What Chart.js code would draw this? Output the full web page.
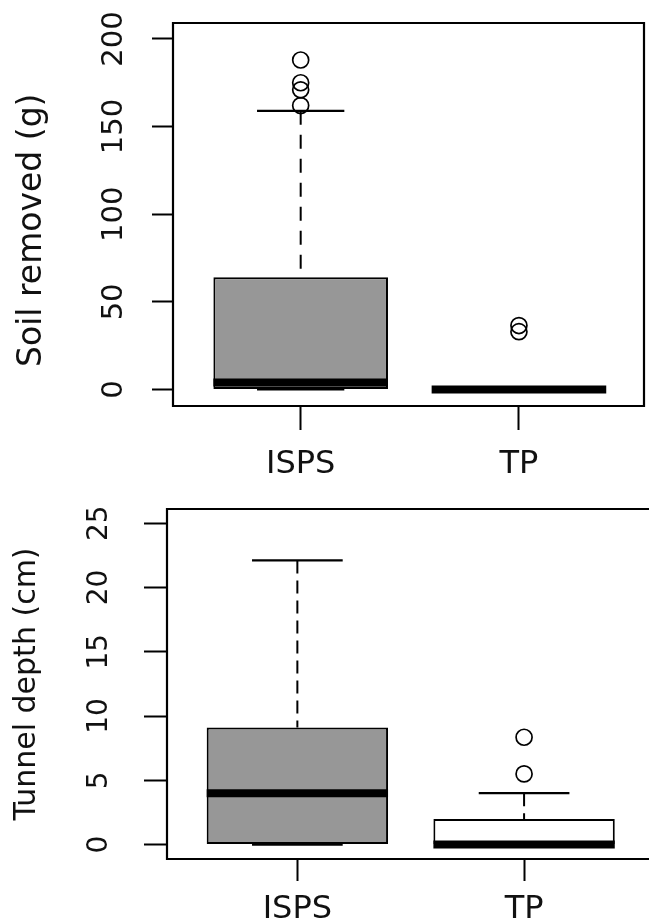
<!DOCTYPE html>
<html><head><meta charset="utf-8">
<script src="https://cdn.jsdelivr.net/npm/chart.js@4.4.1/dist/chart.umd.min.js"></script>
<style>
html,body{margin:0;padding:0;background:#fff;overflow:hidden;width:649px;height:920px}
.wrap{position:absolute;left:0}
canvas{display:block}
</style></head><body>
<div class="wrap" style="top:0"><canvas id="c1" width="649" height="490"></canvas></div>
<div class="wrap" style="top:490px"><canvas id="c2" width="649" height="430"></canvas></div>
<script>
// ---------- data ----------
const categories = ['ISPS', 'TP'];

const soilQ1 = [0, 0];
const soilMedian = [4, 0];
const soilQ3 = [64, 0];
const soilLow = [0, 0];
const soilHigh = [159, 0];
const soilOutliersISPS = [162, 171, 175, 188];
const soilOutliersTP = [33, 36.5];
const soilTicks = [0, 50, 100, 150, 200];

const depthQ1 = [0, 0];
const depthMedian = [4, 0];
const depthQ3 = [9.1, 2];
const depthLow = [0, 0];
const depthHigh = [22.1, 4];
const depthOutliersISPS = [];
const depthOutliersTP = [5.5, 8.35];
const depthTicks = [0, 5, 10, 15, 20, 25];

// ---------- drawing ----------
Chart.defaults.font.family = "'DejaVu Sans', Verdana, sans-serif";
Chart.defaults.color = '#111';

const boxplotPlugin = {
  id: 'boxplot',
  beforeDatasetsDraw(chart, args, o) {
    const ctx = chart.ctx, xs = chart.scales.x, ys = chart.scales.y;
    ctx.save();
    ctx.strokeStyle = '#000';
    o.q1.forEach((_, i) => {
      const c = i + 1, cx = xs.getPixelForValue(c);
      ctx.lineWidth = 2;
      ctx.setLineDash(o.dash);
      if (o.high[i] > o.q3[i]) {
        ctx.beginPath(); ctx.moveTo(cx, ys.getPixelForValue(o.high[i])); ctx.lineTo(cx, ys.getPixelForValue(o.q3[i])); ctx.stroke();
      }
      if (o.low[i] < o.q1[i]) {
        ctx.beginPath(); ctx.moveTo(cx, ys.getPixelForValue(o.low[i])); ctx.lineTo(cx, ys.getPixelForValue(o.q1[i])); ctx.stroke();
      }
      ctx.setLineDash([]);
      ctx.lineWidth = 2.2;
      [o.high[i], o.low[i]].forEach(v => {
        const py = ys.getPixelForValue(v);
        ctx.beginPath(); ctx.moveTo(xs.getPixelForValue(c - 0.2), py); ctx.lineTo(xs.getPixelForValue(c + 0.2), py); ctx.stroke();
      });
    });
    ctx.restore();
  },
  afterDatasetsDraw(chart, args, o) {
    const ctx = chart.ctx, xs = chart.scales.x, ys = chart.scales.y, a = chart.chartArea;
    ctx.save();
    ctx.strokeStyle = '#000';
    ctx.lineCap = 'butt';
    o.median.forEach((m, i) => {
      const c = i + 1, py = ys.getPixelForValue(m);
      ctx.lineWidth = 8;
      ctx.beginPath(); ctx.moveTo(xs.getPixelForValue(c - 0.4), py); ctx.lineTo(xs.getPixelForValue(c + 0.4), py); ctx.stroke();
    });
    ctx.lineWidth = 2.2;
    ctx.beginPath();
    if (o.frameRight) {
      ctx.rect(a.left, a.top, a.right - a.left, a.bottom - a.top);
    } else {
      ctx.moveTo(a.right + 10, a.top); ctx.lineTo(a.left, a.top); ctx.lineTo(a.left, a.bottom); ctx.lineTo(a.right + 10, a.bottom);
    }
    ctx.stroke();
    ctx.restore();
  }
};

function noPad(s) { s.paddingTop = 0; s.paddingBottom = 0; s.paddingLeft = 0; s.paddingRight = 0; }

function makeChart(id, cfg) {
  const boxes = {
    type: 'bar',
    data: categories.map((c, i) => ({ x: i + 1, y: [cfg.q1[i], cfg.q3[i]] })),
    backgroundColor: cfg.fill,
    borderColor: '#000',
    borderWidth: 2,
    borderSkipped: false,
    categoryPercentage: 1,
    barPercentage: 0.8,
    order: 2
  };
  const outliers = {
    type: 'scatter',
    data: [...cfg.outA.map(v => ({ x: 1, y: v })), ...cfg.outB.map(v => ({ x: 2, y: v }))],
    pointStyle: 'circle',
    pointRadius: 8,
    pointBorderWidth: 1.7,
    pointBorderColor: '#000',
    pointBackgroundColor: 'rgba(0,0,0,0)',
    order: 1
  };
  return new Chart(document.getElementById(id), {
    type: 'scatter',
    data: { datasets: [boxes, outliers] },
    options: {
      responsive: false,
      animation: false,
      events: [],
      layout: { padding: cfg.padding, autoPadding: false },
      plugins: {
        legend: { display: false },
        tooltip: { enabled: false },
        boxplot: { q1: cfg.q1, median: cfg.median, q3: cfg.q3, low: cfg.low, high: cfg.high, dash: cfg.dash, frameRight: cfg.frameRight }
      },
      scales: {
        x: {
          type: 'linear', min: cfg.xmin, max: cfg.xmax, offset: false,
          afterBuildTicks: s => { s.ticks = categories.map((c, i) => ({ value: i + 1 })); },
          afterFit: s => { s.height = cfg.xAxisHeight; noPad(s); },
          ticks: { autoSkip: false, maxRotation: 0, font: { size: 32 }, padding: cfg.xPad, callback: v => categories[v - 1] },
          grid: { offset: false, drawOnChartArea: false, drawTicks: true, tickLength: cfg.xTick, tickColor: '#000', tickWidth: 2 },
          border: { display: false }
        },
        y: {
          type: 'linear', min: cfg.ymin, max: cfg.ymax,
          afterBuildTicks: s => { s.ticks = cfg.ticks.map(v => ({ value: v })); },
          afterFit: s => { s.width = cfg.yAxisWidth; noPad(s); },
          ticks: { autoSkip: false, minRotation: 90, maxRotation: 90, crossAlign: 'center', font: { size: cfg.tickSize }, padding: cfg.yPad },
          grid: { drawOnChartArea: false, drawTicks: true, tickLength: cfg.yTick, tickColor: '#000', tickWidth: 2 },
          border: { display: false },
          title: { display: true, text: cfg.title, font: { size: cfg.titleSize }, padding: { top: cfg.titlePad, bottom: 0 } }
        }
      }
    },
    plugins: [boxplotPlugin]
  });
}

makeChart('c1', {
  q1: soilQ1, median: soilMedian, q3: soilQ3, low: soilLow, high: soilHigh,
  outA: soilOutliersISPS, outB: soilOutliersTP, ticks: soilTicks,
  fill: ['#979797', '#979797'], dash: [14, 10], frameRight: true,
  ymin: -9.4, ymax: 209.1, xmin: 0.415, xmax: 2.573,
  padding: { top: 23, right: 5, left: 0, bottom: 0 },
  xAxisHeight: 84, yAxisWidth: 173, xTick: 24, yTick: 21, xPad: 15, yPad: 10, titlePad: 13,
  tickSize: 29, titleSize: 33,
  title: 'Soil removed (g)\u00a0\u00a0\u00a0'
});

makeChart('c2', {
  q1: depthQ1, median: depthMedian, q3: depthQ3, low: depthLow, high: depthHigh,
  outA: depthOutliersISPS, outB: depthOutliersTP, ticks: depthTicks,
  fill: ['#979797', '#ffffff'], dash: [13, 7], frameRight: false,
  ymin: -1.12, ymax: 26.1, xmin: 0.425, xmax: 2.551,
  padding: { top: 19, right: 0, left: 0, bottom: 0 },
  xAxisHeight: 61, yAxisWidth: 167, xTick: 22, yTick: 23, xPad: 9, yPad: 26, titlePad: 9,
  tickSize: 28, titleSize: 30,
  title: 'Tunnel depth (cm)'
});
</script>
</body></html>
